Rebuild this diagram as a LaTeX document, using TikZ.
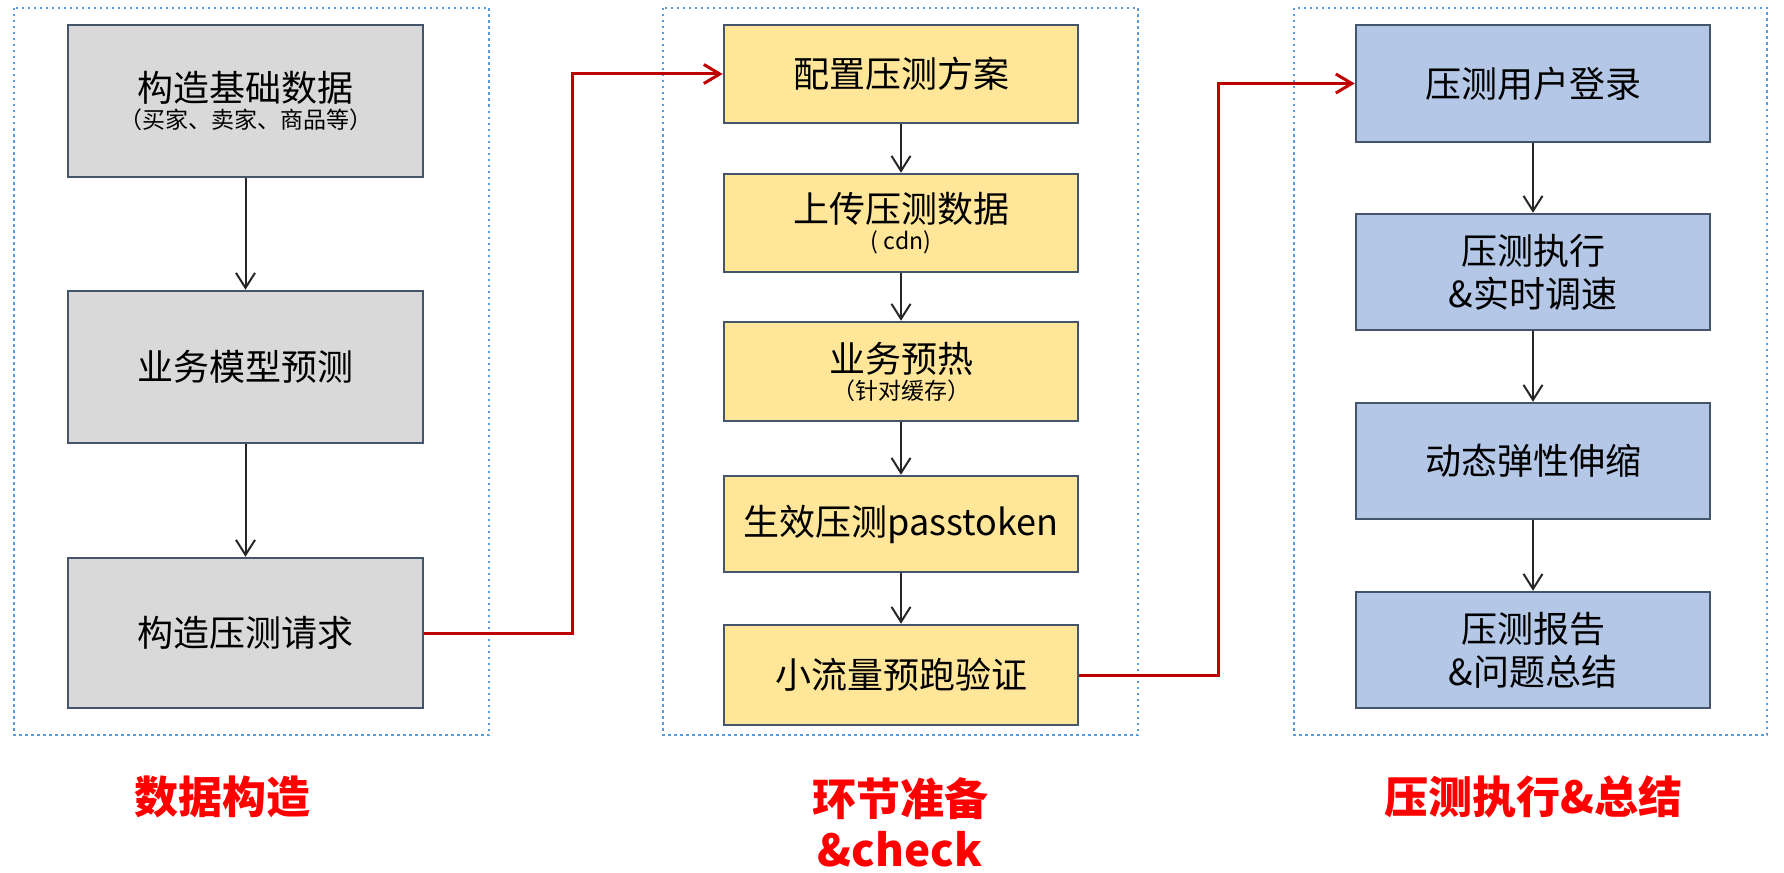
\documentclass[tikz,border=0pt]{standalone}
\usepackage{fontspec}
\setmainfont{Noto Sans CJK SC}
\usetikzlibrary{arrows.meta}
\definecolor{grayfill}{HTML}{D9D9D9}
\definecolor{yellowfill}{HTML}{FFE699}
\definecolor{bluefill}{HTML}{B4C7E7}
\definecolor{boxborder}{HTML}{44546A}
\definecolor{framecol}{HTML}{5B9BD5}
\definecolor{linkred}{HTML}{C00000}
\definecolor{labelred}{HTML}{FF0000}
\newcommand\mainsz{\fontsize{36}{43}\selectfont}
\newcommand\subsz{\fontsize{23}{27}\selectfont}
\newcommand\labsz{\fontsize{44}{51}\selectfont\bfseries}
\begin{document}
\begin{tikzpicture}[x=1pt,y=-1pt,
  box/.style={draw=boxborder,line width=2.5pt,rectangle,inner sep=0pt,
    align=center,font=\mainsz,text=black},
  graybox/.style={box,fill=grayfill,minimum width=355pt},
  yelbox/.style={box,fill=yellowfill,minimum width=354pt},
  bluebox/.style={box,fill=bluefill,minimum width=354pt},
  frame/.style={draw=framecol,line width=2.5pt,dash pattern=on 2.5pt off 3.5pt},
  arr/.style={draw=black!85,line width=2pt,-{Straight Barb[length=15pt,width=19pt,line width=2pt]}},
  link/.style={draw=linkred,line width=3pt,-{Straight Barb[length=16pt,width=19pt,line width=3pt]}},
  grouplabel/.style={font=\labsz,text=labelred,align=center,inner sep=0pt}]
\useasboundingbox (0,0) rectangle (1784,872);
% frames
\draw[frame] (14,8) rectangle (489,735);
\draw[frame] (663,8) rectangle (1138,735);
\draw[frame] (1294,8) rectangle (1767,735);
% left column
\node[graybox,minimum height=152pt] (g1) at (245.5,101) {构造基础数据\\[-16pt]{\subsz （买家、卖家、商品等）}};
\node[graybox,minimum height=152pt] (g2) at (245.5,367) {业务模型预测};
\node[graybox,minimum height=150pt] (g3) at (245.5,633) {构造压测请求};
% middle column
\node[yelbox,minimum height=98pt] (y1) at (901,74) {配置压测方案};
\node[yelbox,minimum height=98pt] (y2) at (901,223) {上传压测数据\\[-16pt]{\subsz ( cdn)}};
\node[yelbox,minimum height=99pt] (y3) at (901,371.5) {业务预热\\[-16pt]{\subsz （针对缓存）}};
\node[yelbox,minimum height=96pt] (y4) at (901,524) {生效压测passtoken};
\node[yelbox,minimum height=100pt] (y5) at (901,675) {小流量预跑验证};
% right column
\node[bluebox,minimum height=117pt] (b1) at (1533,83.5) {压测用户登录};
\node[bluebox,minimum height=116pt] (b2) at (1533,272) {压测执行\\\&实时调速};
\node[bluebox,minimum height=116pt] (b3) at (1533,461) {动态弹性伸缩};
\node[bluebox,minimum height=116pt] (b4) at (1533,650) {压测报告\\\&问题总结};
% arrows
\draw[arr] (g1) -- (g2);
\draw[arr] (g2) -- (g3);
\draw[arr] (y1) -- (y2);
\draw[arr] (y2) -- (y3);
\draw[arr] (y3) -- (y4);
\draw[arr] (y4) -- (y5);
\draw[arr] (b1) -- (b2);
\draw[arr] (b2) -- (b3);
\draw[arr] (b3) -- (b4);
% red links
\coordinate (k1) at (572,633);
\coordinate (k2) at (1218,675);
\draw[link] (g3.east) -- (k1) |- (y1.west);
\draw[link] (y5.east) -- (k2) |- (b1.west);
% labels
\node[grouplabel] (l1) at (222,797) {数据构造};
\node[grouplabel] (l2) at (900,822) {环节准备\\\&check};
\node[grouplabel] (l3) at (1533,797) {压测执行\&总结};
\end{tikzpicture}
\end{document}
